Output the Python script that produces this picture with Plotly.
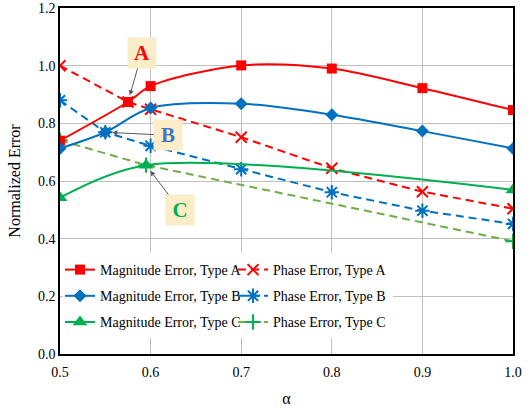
import plotly.graph_objects as go

# ---- data ----
x_mag_a = [0.5, 0.575, 0.6, 0.7, 0.8, 0.9, 1.0]
mag_a = [0.740, 0.874, 0.929, 1.001, 0.990, 0.922, 0.846]
x_ph_a = [0.5, 0.575, 0.6, 0.7, 0.8, 0.9, 1.0]
ph_a = [1.000, 0.874, 0.849, 0.752, 0.644, 0.563, 0.504]

x_mag_b = [0.5, 0.55, 0.6, 0.7, 0.8, 0.9, 1.0]
mag_b = [0.713, 0.769, 0.853, 0.868, 0.830, 0.773, 0.713]
x_ph_b = [0.5, 0.55, 0.6, 0.7, 0.8, 0.9, 1.0]
ph_b = [0.880, 0.769, 0.722, 0.641, 0.561, 0.497, 0.451]

x_mag_c = [0.5, 0.595, 1.0]
mag_c = [0.542, 0.655, 0.569]
x_ph_c = [0.5, 0.595, 1.0]
ph_c = [0.741, 0.655, 0.391]

x_ticks = [0.5, 0.6, 0.7, 0.8, 0.9, 1.0]
y_ticks = [0.0, 0.2, 0.4, 0.6, 0.8, 1.0, 1.2]

RED = "#FF0000"
BLUE = "#0070C0"
GREEN = "#00B050"
LGREEN = "#70AD47"
FONT = "Liberation Serif"

fig = go.Figure()

def mag(x, y, name, color, symbol, size, group):
    fig.add_trace(go.Scatter(
        x=x, y=y, name=name, mode="lines+markers",
        line=dict(color=color, width=2, shape="spline", smoothing=0.9),
        marker=dict(symbol=symbol, size=size, color=color),
        legend="legend", legendgroup=group))

def ph(x, y, name, color, mcolor, symbol, size, group):
    fig.add_trace(go.Scatter(
        x=x, y=y, name=name, mode="lines+markers",
        line=dict(color=color, width=2, dash="8px,5px"),
        marker=dict(symbol=symbol, size=size, color=mcolor,
                    line=dict(color=mcolor, width=2)),
        legend="legend2", legendgroup=group))

ph(x_ph_a, ph_a, "Phase Error, Type A", RED, RED, "x-thin-open", 11, "pa")
ph(x_ph_b, ph_b, "Phase Error, Type B", BLUE, BLUE, "asterisk-open", 12, "pb")
ph(x_ph_c, ph_c, "Phase Error, Type C", LGREEN, GREEN, "cross-thin-open", 11, "pc")
mag(x_mag_a, mag_a, "Magnitude Error, Type A", RED, "square", 10, "ma")
mag(x_mag_b, mag_b, "Magnitude Error, Type B", BLUE, "diamond", 10, "mb")
mag(x_mag_c, mag_c, "Magnitude Error, Type C", GREEN, "triangle-up", 13, "mc")

legend_common = dict(
    bgcolor="rgba(0,0,0,0)", font=dict(family=FONT, size=14, color="black"),
    itemwidth=30, tracegroupgap=5, traceorder="grouped",
    yanchor="top", xanchor="left", borderwidth=0)

# white backdrop behind the two legend columns
fig.add_shape(type="rect", xref="x", yref="y", x0=0.503, x1=0.868,
              y0=0.056, y1=0.352, fillcolor="white", line=dict(width=0),
              layer="above")

BOX = "#FCEDC9"
ARROW = "#595959"

def label(txt, x, y, ax, ay, color):
    fig.add_annotation(
        x=x, y=y, ax=ax, ay=ay, text="<b>%s</b>" % txt, showarrow=True,
        arrowhead=2, arrowsize=1, arrowwidth=1, arrowcolor=ARROW,
        standoff=7, font=dict(family=FONT, size=21, color=color),
        bgcolor=BOX, width=26, height=28)

label("A", 0.575, 0.874, 14, -49, RED)
label("B", 0.55, 0.769, 63, 3, "#4472C4")
label("C", 0.595, 0.655, 34, 45, GREEN)

fig.update_layout(
    width=529, height=411,
    margin=dict(l=60, r=16, t=8, b=57, autoexpand=False),
    paper_bgcolor="white", plot_bgcolor="white",
    font=dict(family=FONT, size=14, color="black"),
    showlegend=True,
    legend=dict(x=0.0, y=0.289, **legend_common),
    legend2=dict(x=0.382, y=0.289, **legend_common),
    xaxis=dict(
        range=[0.5, 1.0], tickvals=x_ticks, tickformat=".1f",
        showgrid=True, gridcolor="#BFBFBF", gridwidth=1,
        showline=True, linecolor="black", linewidth=1.5, mirror=True,
        ticks="", zeroline=False, automargin=False, ticklabelstandoff=4,
        title=dict(text="α", font=dict(family=FONT, size=16), standoff=14),
        tickfont=dict(family=FONT, size=14)),
    yaxis=dict(
        range=[0.0, 1.2], tickvals=y_ticks, tickformat=".1f",
        showgrid=True, gridcolor="#BFBFBF", gridwidth=1,
        showline=True, linecolor="black", linewidth=1.5, mirror=True,
        ticks="", zeroline=False, automargin=False,
        title=dict(text="Normalized Error", font=dict(family=FONT, size=16), standoff=13),
        tickfont=dict(family=FONT, size=14)),
)

fig.write_html("out.html")
